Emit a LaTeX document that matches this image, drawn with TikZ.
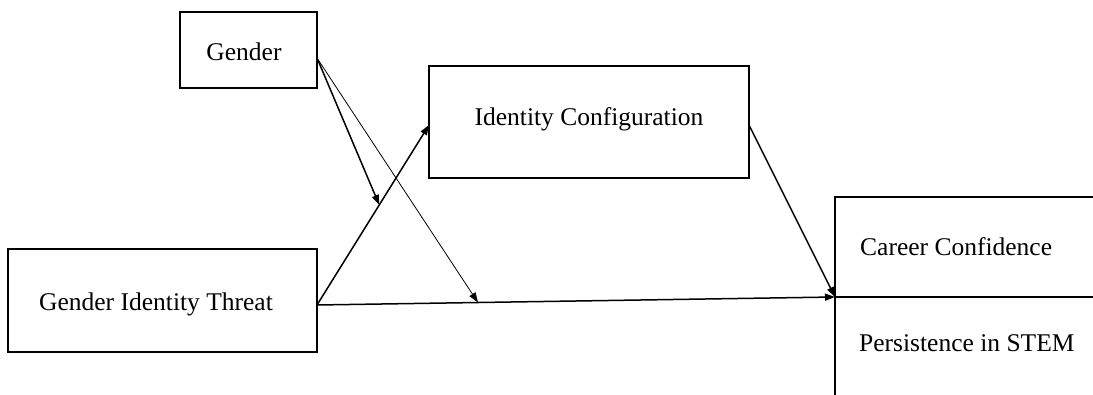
\documentclass[tikz,border=0pt]{standalone}
\usepackage{fontspec}
\setmainfont{Liberation Serif}
\usetikzlibrary{arrows.meta,calc}
\begin{document}
\begin{tikzpicture}[x=1pt,y=-1pt,
  box/.style={draw,line width=1.5pt,inner sep=0pt},
  lbl/.style={font=\fontsize{25.5}{28}\selectfont,inner sep=0pt,anchor=base west},
  link/.style={line width=1.5pt,-{Triangle[length=10pt,width=7pt]}},
  thin link/.style={line width=0.8pt,-{Triangle[length=10pt,width=7pt]}}]
\useasboundingbox (0,0) rectangle (1093,395);
% boxes
\node[box,minimum width=137pt,minimum height=76pt] (gender) at (248.5,50) {};
\node[box,minimum width=309pt,minimum height=103pt] (git) at (162.5,300.5) {};
\node[box,minimum width=320pt,minimum height=112pt] (ic) at (589,122) {};
% texts
\node[lbl,anchor=base] (gendertxt) at (244,61) {Gender};
\node[lbl,anchor=base] (gittxt) at (156,311) {Gender Identity Threat};
\node[lbl,anchor=base] (ictxt) at (589,126) {Identity Configuration};
\node[lbl] (cctxt) at (860,256) {Career Confidence};
\node[lbl] (pstxt) at (859,352) {Persistence in STEM};
% outcome frame (open)
\coordinate (out) at (835,297);
\draw[line width=1.5pt] (1093,197) -- (835,197) -- (835,395);
\draw[line width=1.5pt] (out) -- (1093,297);
% anchor points
\coordinate (gE) at (317,58);
\coordinate (gitE) at (317,305);
\coordinate (icW) at (429,125);
\coordinate (icE) at (749,125);
\coordinate (mod1) at ($(gitE)!0.556!(icW)$);
\coordinate (mod2) at ($(gitE)!0.3108!(out)$);
% connectors
\draw[link] (gitE) -- (icW);
\draw[link] (gitE) -- (out);
\draw[link] (icE) -- (out);
\draw[link] (gE) -- (mod1);
\draw[thin link] (gE) -- (mod2);
\end{tikzpicture}
\end{document}
